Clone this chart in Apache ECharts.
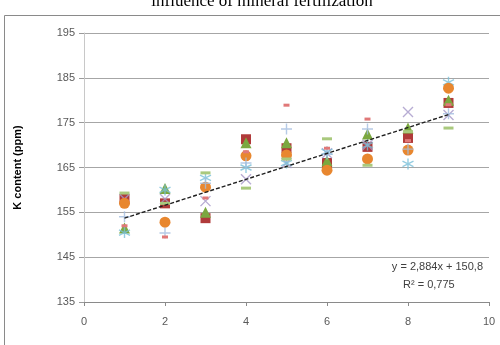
<!DOCTYPE html>
<html>
<head>
<meta charset="utf-8">
<script src="https://cdn.jsdelivr.net/npm/echarts@6/dist/echarts.min.js"></script>
<style>
  html, body { margin: 0; padding: 0; background: #fff; }
  #chart { width: 500px; height: 345px; }
</style>
</head>
<body>
<div id="chart"></div>
<script>
// x positions (treatments)
const xValues = [1, 2, 3, 4, 5, 6, 7, 8, 9]

// K content per series
const squareVals = [158, 157, 153.7, 171.3, 169.3, 166, 169.6, 171.6, 179.4]
const triangleVals = [151.5, 160.3, 155, 170.5, 170.5, 166.5, 172.5, 173.8, 180]
const crossVals = [158, 158, 157.5, 162.4, 166, 168.2, 170, 177.4, 176.7]
const starVals = [150.5, 160, 162.7, 165, 166, 168.5, 170, 165.8, 184]
const circleVals = [157, 152.8, 160.6, 167.6, 167.8, 164.4, 166.9, 168.9, 182.7]
const plusVals = [154, 150.4, 161.5, 166, 173.6, 168, 173.6, 169.1, 177]
const greenDashVals = [159.3, 157, 163.8, 160.4, 166.9, 171.4, 165.5, 173, 173.8]
const pinkDashVals = [152, 149.5, 158.2, 168.5, 178.9, 169.3, 175.8, 171, 179]

// linear trend end points
const trendX = [1, 9]
const trendY = [153.7, 176.8]

const yTicks = { min: 135, max: 195, step: 10 }
const xTicks = { min: 0, max: 10, step: 2 }

const pts = vals => vals.map((v, i) => [xValues[i], v])

const PATH_X = 'path://M0 0 L10 10 M10 0 L0 10'
const PATH_STAR = 'path://M5 0 L5 10 M0.7 2.5 L9.3 7.5 M0.7 7.5 L9.3 2.5'
const PATH_PLUS = 'path://M5 0 L5 10 M0 5 L10 5'

function markerSeries (name, data, symbol, size, color, stroked) {
  return {
    name: name,
    type: 'scatter',
    symbol: symbol,
    symbolSize: size,
    data: pts(data),
    itemStyle: stroked
      ? { color: 'rgba(0,0,0,0)', borderColor: color, borderWidth: 1.4 }
      : { color: color, opacity: 1 }
  }
}

const chart = echarts.init(document.getElementById('chart'))
chart.setOption({
  animation: false,
  title: {
    text: 'influence of mineral fertilization',
    left: 257,
    textAlign: 'center',
    top: -12,
    textStyle: {
      fontFamily: 'Liberation Serif',
      fontWeight: 'normal',
      fontSize: 17,
      color: '#000'
    }
  },
  graphic: [
    {
      type: 'rect',
      shape: { x: 4.5, y: 15.5, width: 510, height: 340 },
      style: { fill: 'none', stroke: '#8a8a8a', lineWidth: 1 },
      z: -1
    },
    {
      type: 'text',
      right: 17,
      top: 261,
      style: {
        text: 'y = 2,884x + 150,8',
        fontFamily: 'Liberation Sans',
        fontSize: 11,
        fill: '#404040'
      }
    },
    {
      type: 'text',
      left: 403,
      top: 279,
      style: {
        text: 'R² = 0,775',
        fontFamily: 'Liberation Sans',
        fontSize: 11,
        fill: '#404040'
      }
    }
  ],
  grid: {
    left: 84,
    right: 11,
    top: 33,
    bottom: 43
  },
  xAxis: {
    type: 'value',
    min: xTicks.min,
    max: xTicks.max,
    interval: xTicks.step,
    axisLine: { lineStyle: { color: '#8a8a8a', width: 1 } },
    axisTick: { show: true, length: 4, lineStyle: { color: '#8a8a8a' } },
    splitLine: { show: false },
    axisLabel: {
      color: '#595959',
      fontFamily: 'Liberation Sans',
      fontSize: 11,
      margin: 14
    }
  },
  yAxis: {
    type: 'value',
    min: yTicks.min,
    max: yTicks.max,
    interval: yTicks.step,
    name: 'K content (ppm)',
    nameLocation: 'middle',
    nameGap: 61,
    nameTextStyle: {
      fontFamily: 'Liberation Sans',
      fontWeight: 'bold',
      fontSize: 11,
      color: '#000'
    },
    axisLine: { show: true, lineStyle: { color: '#c8c8c8', width: 1 } },
    axisTick: { show: true, length: 5, lineStyle: { color: '#9a9a9a' } },
    splitLine: { lineStyle: { color: '#a6a6a6', width: 1 } },
    axisLabel: {
      color: '#595959',
      fontFamily: 'Liberation Sans',
      fontSize: 11,
      margin: 9
    }
  },
  series: [
    markerSeries('S2', squareVals, 'rect', 10, '#b03a3a', false),
    markerSeries('S3', triangleVals, 'triangle', 11, '#7ba83f', false),
    markerSeries('S4', crossVals, PATH_X, 10, '#a597c8', true),
    markerSeries('S5', starVals, PATH_STAR, 11, '#79bfd8', true),
    markerSeries('S6', circleVals, 'circle', 11, '#e8872f', false),
    markerSeries('S7', plusVals, PATH_PLUS, 11, '#a3bde0', true),
    markerSeries('S8', greenDashVals, 'rect', [10, 3], '#a9c97d', false),
    markerSeries('S9', pinkDashVals, 'rect', [6, 3], '#e07878', false),
    {
      name: 'trend',
      type: 'line',
      data: trendX.map((x, i) => [x, trendY[i]]),
      symbol: 'none',
      lineStyle: { color: '#202020', width: 1.4, type: [4, 2] },
      z: 5
    }
  ]
})
</script>
</body>
</html>
